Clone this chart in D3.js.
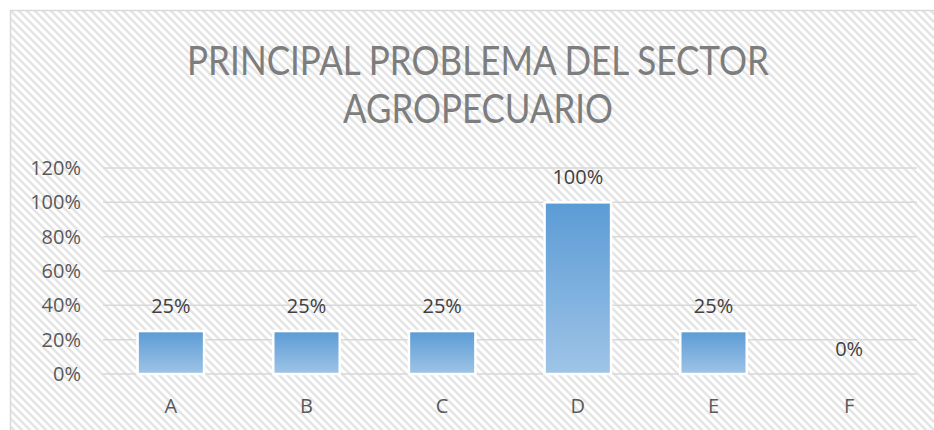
<!DOCTYPE html>
<html>
<head>
<meta charset="utf-8">
<script src="https://cdn.jsdelivr.net/npm/d3@7/dist/d3.min.js"></script>
<style>
  html, body { margin: 0; padding: 0; background: #fff; }
  svg { display: block; }
</style>
</head>
<body>
<svg id="chart" width="934" height="430"></svg>
<script>
const titleLines = ["PRINCIPAL PROBLEMA DEL SECTOR", "AGROPECUARIO"];
const categories = ["A", "B", "C", "D", "E", "F"];
const values = [0.25, 0.25, 0.25, 1.00, 0.25, 0.00];
const yTicks = [0, 0.2, 0.4, 0.6, 0.8, 1.0, 1.2];

const W = 934, H = 430;
const plot = { left: 103, right: 917, top: 168, bottom: 374 };

const svg = d3.select("#chart");
const defs = svg.append("defs");

// diagonal hatch background
const pat = defs.append("pattern")
  .attr("id", "hatch")
  .attr("patternUnits", "userSpaceOnUse")
  .attr("width", 8).attr("height", 8);
pat.append("rect").attr("width", 8).attr("height", 8).attr("fill", "#ffffff");
pat.append("path")
  .attr("d", "M-2,-2 L10,10 M-2,6 L2,10 M6,-2 L10,2")
  .attr("stroke", "#e4e4e4").attr("stroke-width", 2.4);

const grad = defs.append("linearGradient")
  .attr("id", "barGrad").attr("x1", 0).attr("y1", 0).attr("x2", 0).attr("y2", 1);
grad.append("stop").attr("offset", "0%").attr("stop-color", "#5b9bd5");
grad.append("stop").attr("offset", "100%").attr("stop-color", "#9fc4e7");

svg.append("rect").attr("width", W).attr("height", H).attr("fill", "#fff");
svg.append("rect")
  .attr("x", 10.5).attr("y", 10.5)
  .attr("width", W).attr("height", H)
  .attr("fill", "url(#hatch)")
  .attr("stroke", "#d9d9d9").attr("stroke-width", 1.5);

// title
const titleBaselines = [75, 123];
const titleWidths = [582, 270];
titleLines.forEach((t, i) => {
  const tx = svg.append("text")
    .attr("x", 0).attr("y", 0)
    .attr("text-anchor", "middle")
    .attr("font-family", "Lato, 'Open Sans', 'Liberation Sans', sans-serif")
    .attr("font-weight", 400)
    .attr("font-size", 40)
    .attr("fill", "#7d7d7d")
    .text(t);
  const len = tx.node().getComputedTextLength();
  const sx = titleWidths[i] / len;
  tx.attr("transform", `translate(478,${titleBaselines[i]}) scale(${sx},1)`);
});

const x = d3.scaleBand()
  .domain(categories)
  .range([plot.left, plot.right])
  .paddingInner(0.51)
  .paddingOuter(0.255);

const y = d3.scaleLinear()
  .domain([0, 1.2])
  .range([plot.bottom, plot.top]);

// gridlines
svg.append("g")
  .selectAll("line")
  .data(yTicks)
  .join("line")
  .attr("x1", plot.left).attr("x2", plot.right)
  .attr("y1", d => y(d)).attr("y2", d => y(d))
  .attr("stroke", "#d9d9d9").attr("stroke-width", 1.5);

// y axis labels
const yAxis = d3.axisLeft(y).tickValues(yTicks)
  .tickFormat(d => Math.round(d * 100) + "%")
  .tickSize(0).tickPadding(0);
const yg = svg.append("g").attr("transform", `translate(81,0)`).call(yAxis);
yg.select(".domain").remove();
yg.selectAll("text")
  .attr("font-family", "'Open Sans', 'Liberation Sans', Arial, sans-serif")
  .attr("font-size", 20)
  .attr("fill", "#595959");

// x axis labels
const xAxis = d3.axisBottom(x).tickSize(0).tickPadding(0);
const xg = svg.append("g").attr("transform", `translate(0,${plot.bottom})`).call(xAxis);
xg.select(".domain").remove();
xg.selectAll("text")
  .attr("dy", null)
  .attr("y", 39)
  .attr("font-family", "'Open Sans', 'Liberation Sans', Arial, sans-serif")
  .attr("font-size", 20)
  .attr("fill", "#595959");

// bars
const data = categories.map((c, i) => ({ c, v: values[i] }));
svg.append("g")
  .selectAll("rect")
  .data(data.filter(d => d.v > 0))
  .join("rect")
  .attr("x", d => x(d.c))
  .attr("y", d => y(d.v))
  .attr("width", x.bandwidth())
  .attr("height", d => y(0) - y(d.v))
  .attr("fill", "url(#barGrad)")
  .attr("stroke", "#ffffff")
  .attr("stroke-width", 2.5);

// data labels
svg.append("g")
  .selectAll("text")
  .data(data)
  .join("text")
  .attr("x", d => x(d.c) + x.bandwidth() / 2)
  .attr("y", d => y(d.v) - 18)
  .attr("text-anchor", "middle")
  .attr("font-family", "'Open Sans', 'Liberation Sans', Arial, sans-serif")
  .attr("font-size", 20)
  .attr("fill", "#404040")
  .text(d => Math.round(d.v * 100) + "%");
</script>
</body>
</html>
